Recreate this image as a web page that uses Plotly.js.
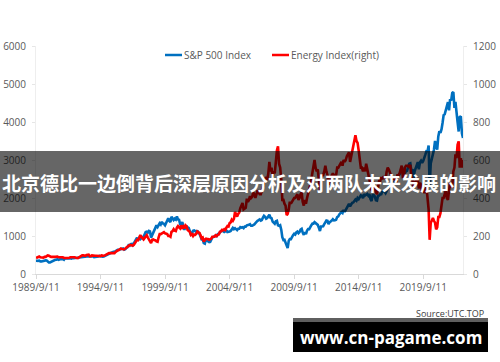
<!DOCTYPE html>
<html>
<head>
<meta charset="utf-8">
<script src="https://cdn.plot.ly/plotly-3.0.1.min.js"></script>
<style>
html,body{margin:0;padding:0;background:#fff;}
#chart{width:500px;height:362px;}
</style>
</head>
<body>
<div id="chart"></div>
<script>
// ---- data (one reading per month from 1989-09) ----
var startYear = 1989, startMonth = 9, startDay = 11;
var seriesNames = ['S&P 500 Index', 'Energy Index(right)'];
var spx = [
  349,340,346,353,
  329,331,340,331,361,358,356,323,306,304,322,330,
  344,367,375,375,390,371,388,395,388,392,375,417,
  409,413,404,415,415,408,424,414,418,419,431,436,
  439,443,452,440,450,451,448,464,459,468,462,466,
  482,467,446,451,457,444,458,475,463,472,454,459,
  470,487,501,515,533,545,562,562,584,582,605,616,
  636,640,646,654,669,671,640,652,687,705,757,741,
  786,791,757,801,848,885,954,899,947,915,955,970,
  980,1049,1102,1112,1091,1134,1121,957,1017,1099,1164,1229,
  1280,1238,1286,1335,1302,1373,1329,1320,1283,1363,1389,1469,
  1394,1366,1510,1452,1421,1455,1431,1518,1437,1429,1315,1320,
  1366,1240,1160,1249,1256,1224,1211,1134,1041,1060,1139,1148,
  1130,1107,1147,1077,1067,990,912,916,815,800,936,880,
  856,841,848,917,964,975,990,1008,996,1051,1058,1112,
  1131,1145,1126,1107,1121,1141,1102,1104,1115,1130,1174,1212,
  1181,1204,1181,1157,1192,1191,1234,1220,1229,1207,1249,1248,
  1280,1281,1295,1311,1270,1270,1277,1304,1336,1378,1401,1418,
  1438,1407,1421,1482,1531,1503,1455,1474,1527,1560,1481,1468,
  1379,1331,1323,1386,1400,1280,1267,1283,1166,969,896,903,
  826,735,680,873,919,919,987,1021,1057,1036,1096,1115,
  1074,1104,1169,1187,1089,1031,1102,1049,1141,1183,1181,1258,
  1286,1327,1326,1364,1345,1321,1292,1219,1131,1253,1247,1258,
  1312,1366,1408,1398,1310,1362,1379,1407,1441,1412,1416,1426,
  1498,1515,1569,1598,1631,1606,1686,1633,1682,1757,1806,1848,
  1783,1859,1872,1884,1924,1960,1931,2003,1972,2018,2068,2059,
  1995,2105,2068,2086,2107,2063,2104,1972,1920,2079,2080,2044,
  1940,1932,2060,2065,2097,2099,2174,2171,2168,2126,2199,2239,
  2279,2364,2363,2384,2412,2423,2470,2472,2519,2575,2648,2674,
  2824,2714,2641,2648,2705,2718,2816,2902,2914,2712,2760,2507,
  2704,2784,2834,2946,2752,2942,2980,2926,2977,3038,3141,3231,
  3226,3380,2300,2912,3044,3100,3271,3500,3363,3270,3622,3756,
  3714,3811,3973,4181,4204,4298,4395,4523,4308,4605,4567,4766,
  4790,4374,4530,4132,4000,3750,4130,4150,3700,3580
];
var energy = [
  84,86,88,92,
  88,88,88,86,90,90,94,98,96,92,90,90,
  88,90,90,92,92,88,88,86,86,88,84,86,
  84,84,84,86,88,88,90,88,88,86,84,84,
  88,92,96,98,98,98,96,100,100,102,94,94,
  98,96,94,96,96,96,96,96,94,98,96,96,
  98,102,104,108,110,110,110,110,112,110,116,122,
  124,126,130,134,132,132,130,134,138,144,150,152,
  152,152,150,154,162,168,180,178,192,205,195,190,
  182,190,200,204,192,184,176,162,180,182,178,178,
  172,170,192,210,210,212,218,220,214,212,210,200,
  200,196,222,226,236,228,226,244,252,246,240,256,
  244,250,240,256,250,232,228,222,206,210,200,208,
  206,212,224,220,216,204,188,192,170,180,186,184,
  184,180,184,186,196,196,196,204,200,206,208,222,
  224,232,230,236,232,244,252,250,268,272,286,280,
  290,326,316,302,316,324,346,360,374,340,346,348,
  396,380,390,410,400,406,430,420,400,420,440,430,
  420,420,440,466,486,500,510,494,530,590,540,560,
  510,540,530,600,650,672,580,560,500,390,390,370,
  360,310,316,340,380,370,380,390,400,400,410,420,
  390,400,420,430,380,360,390,370,400,420,450,470,
  500,540,580,600,560,540,550,490,440,520,520,520,
  540,570,540,520,470,490,500,520,530,520,510,520,
  560,560,570,580,590,570,600,590,600,620,630,640,
  590,620,640,680,690,730,700,690,650,600,560,560,
  540,560,540,580,550,520,480,470,440,480,480,450,
  430,420,450,490,490,510,500,510,510,500,540,560,
  550,530,520,510,500,500,500,480,520,520,530,550,
  570,510,510,560,570,570,570,560,575,510,500,440,
  480,490,500,500,450,480,470,430,450,430,430,460,
  410,340,180,270,280,295,280,270,235,245,300,300,
  320,380,400,400,420,440,400,390,440,480,460,460,
  540,560,630,610,680,698,560,610,560,600
];
var tickDates = ['1989-09-11','1994-09-11','1999-09-11','2004-09-11','2009-09-11','2014-09-11','2019-09-11'];
var tickLabels = ['1989/9/11','1994/9/11','1999/9/11','2004/9/11','2009/9/11','2014/9/11','2019/9/11'];
var bannerText = '北京德比一边倒背后深层原因分析及对两队未来发展的影响';
var siteText = 'www.cn-pagame.com';
var sourceText = 'Source:UTC.TOP';

// ---- dates for the monthly readings ----
function pad(n){return (n<10?'0':'')+n;}
var dates = [];
for (var i = 0; i < spx.length; i++) {
  var m = startMonth - 1 + i;
  var y = startYear + Math.floor(m / 12);
  dates.push(y + '-' + pad(m % 12 + 1) + '-' + pad(startDay));
}

var blue = '#0070C0', red = '#FF0000';
var tickFont = {family: 'Open Sans, sans-serif', size: 10, color: '#595959'};

var traces = [
  {x: dates, y: spx, name: seriesNames[0], type: 'scatter', mode: 'lines',
   line: {color: blue, width: 2.6}, yaxis: 'y', hoverinfo: 'skip'},
  {x: dates, y: energy, name: seriesNames[1], type: 'scatter', mode: 'lines',
   line: {color: red, width: 2.6}, yaxis: 'y2', hoverinfo: 'skip'}
];

// paper helpers (plot area: x 36..463, y 46..274)
function px(x){return (x - 36) / 427;}
function py(y){return 1 - (y - 46) / 228;}

var layout = {
  width: 500, height: 362,
  margin: {l: 36, r: 37, t: 46, b: 88, pad: 0},
  paper_bgcolor: '#ffffff', plot_bgcolor: '#ffffff',
  showlegend: false,
  font: {family: 'Open Sans, sans-serif', color: '#595959'},
  xaxis: {
    type: 'date', range: [dates[0], dates[dates.length - 1]],
    tickvals: tickDates, ticktext: tickLabels,
    showgrid: false, zeroline: false,
    showline: true, linecolor: '#d9d9d9', linewidth: 1,
    ticks: 'outside', ticklen: 4, tickcolor: '#d9d9d9',
    tickfont: tickFont
  },
  yaxis: {
    range: [0, 6000], dtick: 1000, tick0: 0,
    showgrid: false, zeroline: false,
    showline: true, linecolor: '#eeeeee', linewidth: 1,
    ticks: 'outside', ticklen: 3, tickcolor: '#e6e6e6',
    tickfont: tickFont, ticklabelstandoff: 4
  },
  yaxis2: {
    range: [0, 1200], dtick: 200, tick0: 0, overlaying: 'y', side: 'right',
    showgrid: false, zeroline: false,
    showline: true, linecolor: '#eeeeee', linewidth: 1,
    ticks: 'outside', ticklen: 3, tickcolor: '#e6e6e6',
    tickfont: tickFont, ticklabelstandoff: 4
  },
  shapes: [
    // legend samples
    {type: 'line', xref: 'paper', yref: 'paper', x0: px(165), x1: px(182), y0: py(55), y1: py(55),
     line: {color: blue, width: 2.5}},
    {type: 'line', xref: 'paper', yref: 'paper', x0: px(272), x1: px(289), y0: py(55), y1: py(55),
     line: {color: red, width: 2.5}},
    // banner
    {type: 'rect', xref: 'paper', yref: 'paper', layer: 'above',
     x0: px(-2), x1: px(502), y0: py(151), y1: py(212),
     fillcolor: 'rgba(0,0,0,0.6)', line: {width: 0}},
    // site box
    {type: 'rect', xref: 'paper', yref: 'paper', layer: 'above',
     x0: px(293), x1: px(488), y0: py(318), y1: py(352),
     fillcolor: '#000000', line: {width: 0}},
    {type: 'rect', xref: 'paper', yref: 'paper', layer: 'above',
     x0: px(293), x1: px(488), y0: py(318), y1: py(322),
     fillcolor: '#5f5f5f', line: {width: 0}}
  ],
  annotations: [
    {xref: 'paper', yref: 'paper', x: px(182), y: py(55), xanchor: 'left', yanchor: 'middle',
     text: seriesNames[0], showarrow: false, font: {family: 'Open Sans, sans-serif', size: 10, color: '#595959'}},
    {xref: 'paper', yref: 'paper', x: px(289), y: py(55), xanchor: 'left', yanchor: 'middle',
     text: seriesNames[1], showarrow: false, font: {family: 'Open Sans, sans-serif', size: 10, color: '#595959'}},
    {xref: 'paper', yref: 'paper', x: px(249), y: py(182), xanchor: 'center', yanchor: 'middle',
     text: '<b>' + bannerText + '</b>', showarrow: false,
     font: {family: 'Noto Sans CJK SC, sans-serif', size: 19, color: '#ffffff'}},
    {xref: 'paper', yref: 'paper', x: px(486), y: py(313), xanchor: 'right', yanchor: 'middle',
     text: sourceText, showarrow: false, font: {family: 'Open Sans, sans-serif', size: 9, color: '#404040'}},
    {xref: 'paper', yref: 'paper', x: px(391), y: py(337), xanchor: 'center', yanchor: 'middle',
     text: '<b>' + siteText + '</b>', showarrow: false,
     font: {family: 'Open Sans, sans-serif', size: 17, color: '#ffffff'}}
  ]
};

Plotly.newPlot('chart', traces, layout, {staticPlot: true, displayModeBar: false});
</script>
</body>
</html>
